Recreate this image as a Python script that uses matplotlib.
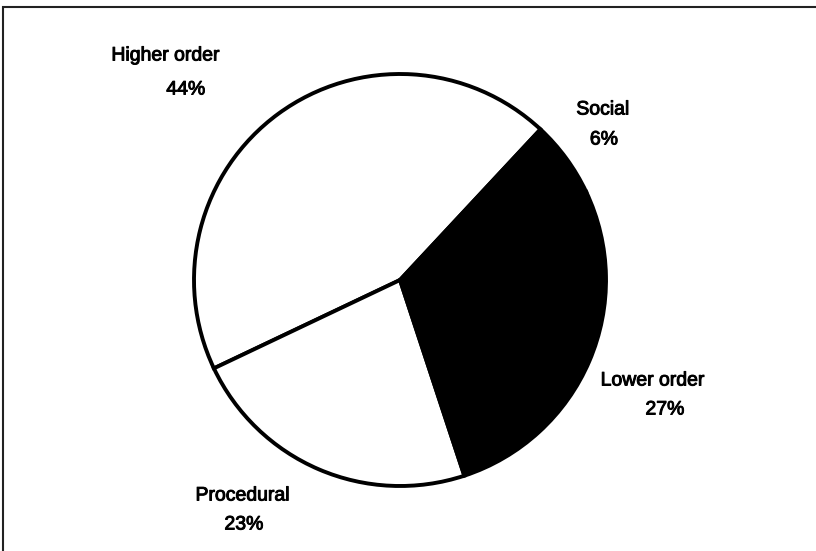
import matplotlib.pyplot as plt
import matplotlib.patheffects as pe
from matplotlib.patches import Rectangle

categories = ["Higher order", "Procedural", "Lower order", "Social"]
shares = [44, 23, 27, 6]
fills = ["white", "white", "black", "black"]

# where each two-line label sits (pixel coords, y up), name line then percent line
name_pos = [(166, 495), (243, 55), (653, 170), (603, 441)]
pct_pos = [(186, 461), (244, 26), (665, 141), (604, 411)]

W, H = 816, 551
fig = plt.figure(figsize=(W / 100, H / 100), dpi=100)
ax = fig.add_axes([0, 0, 1, 1])

ax.pie(shares, colors=fills, startangle=47, counterclock=True,
       center=(400, H - 280), radius=206, frame=True,
       wedgeprops=dict(edgecolor="black", linewidth=2.8))
ax.set_xlim(0, W)
ax.set_ylim(0, H)
ax.set_aspect("equal")
ax.axis("off")

# scanned text looks heavier than plain Arial
thick = [pe.withStroke(linewidth=0.7, foreground="black")]
for name, val, npos, ppos in zip(categories, shares, name_pos, pct_pos):
    ax.text(npos[0], npos[1], name, ha="center", va="center", fontsize=14,
            family="Liberation Sans", color="black", path_effects=thick)
    ax.text(ppos[0], ppos[1], f"{val}%", ha="center", va="center", fontsize=14,
            family="Liberation Sans", color="black", path_effects=thick)

# scanned page frame (top and left edge visible)
ax.add_patch(Rectangle((3, -20), 900, H - 7 + 20, fill=False,
                       edgecolor="#222222", linewidth=1.5, clip_on=False))

fig.savefig("out.png", dpi=100, facecolor="white")
